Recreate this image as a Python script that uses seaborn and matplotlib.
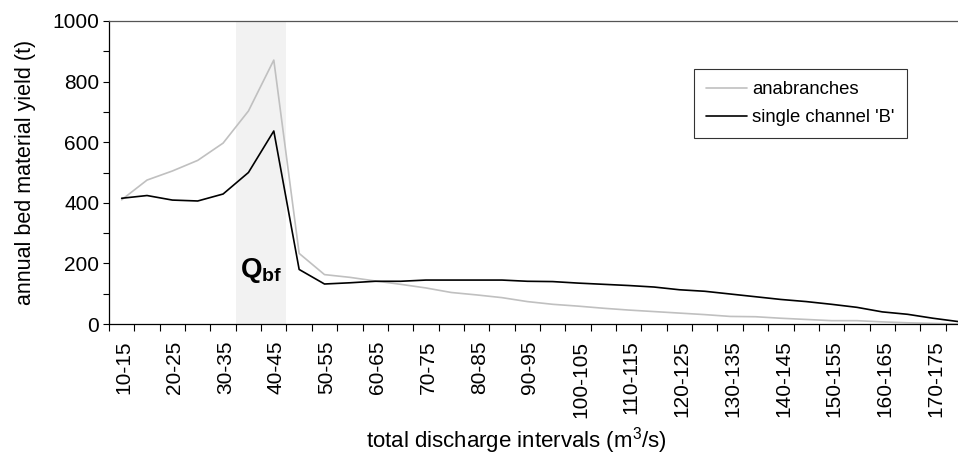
import numpy as np
import pandas as pd
import matplotlib
matplotlib.use("Agg")
import matplotlib.pyplot as plt
from matplotlib.ticker import FixedLocator, MultipleLocator
import seaborn as sns

# discharge classes 10-15 ... 175-180 m3/s
intervals = ["%d-%d" % (lo, lo + 5) for lo in range(10, 180, 5)]

anabranches = [410, 475, 505, 540, 597, 703, 871, 233, 163, 154, 142, 131,
               119, 104, 96, 87, 74, 65, 59, 52, 46, 41, 36, 31, 25, 24,
               19, 15, 11, 11, 7, 4, 2, 0]
single_channel = [415, 424, 409, 406, 429, 500, 637, 180, 132, 136, 141, 141,
                  145, 145, 145, 145, 141, 140, 135, 131, 127, 122, 113, 108,
                  99, 90, 81, 74, 65, 55, 40, 32, 19, 8]

series_names = ["anabranches", "single channel 'B'"]
series_colors = {"anabranches": "#c0c0c0", "single channel 'B'": "#000000"}

sns.set_style("ticks")
plt.rcParams['font.family'] = ['Liberation Sans', 'DejaVu Sans']
plt.rcParams['mathtext.fontset'] = 'custom'
plt.rcParams['mathtext.rm'] = 'Liberation Sans'
plt.rcParams['mathtext.bf'] = 'Liberation Sans:bold'
plt.rcParams['mathtext.it'] = 'Liberation Sans:italic'
for key in ["text.color", "axes.labelcolor", "xtick.color", "ytick.color"]:
    plt.rcParams[key] = "black"

df = pd.DataFrame({
    "idx": list(range(len(intervals))) * 2,
    "value": anabranches + single_channel,
    "series": [series_names[0]] * len(intervals) + [series_names[1]] * len(intervals),
})

fig = plt.figure(figsize=(9.58, 4.57), dpi=100)
ax = fig.add_axes([109 / 958, 1 - 324 / 457, (971 - 109) / 958, (324 - 21) / 457])

# bankfull discharge band
ax.axvspan(4.5, 6.5, color="#f2f2f2", zorder=0, lw=0)

sns.lineplot(data=df, x="idx", y="value", hue="series", palette=series_colors,
             hue_order=series_names, linewidth=1.2, ax=ax, legend=False)

ax.set_xlim(-0.5, len(intervals) - 0.5)
ax.set_ylim(0, 1000)

# ticks between categories, labels on every second category
ax.xaxis.set_major_locator(FixedLocator(np.arange(-0.5, len(intervals), 1.0)))
ax.xaxis.set_major_formatter(plt.NullFormatter())
ax.set_xticks(np.arange(0, len(intervals), 2) + 0.1, minor=True)
ax.set_xticklabels(intervals[::2], minor=True, rotation=90)
ax.tick_params(axis="x", which="major", direction="out", length=5, width=0.8)
ax.tick_params(axis="x", which="minor", length=0, pad=12, labelsize=15)

ax.yaxis.set_major_locator(MultipleLocator(200))
ax.yaxis.set_minor_locator(MultipleLocator(100))
ax.tick_params(axis="y", which="both", direction="out", length=4, width=0.8,
               labelsize=15, pad=3)

for side in ["left", "bottom"]:
    ax.spines[side].set_color("black")
    ax.spines[side].set_linewidth(0.9)
ax.spines["top"].set_visible(True)
ax.spines["top"].set_color("#555555")
ax.spines["top"].set_linewidth(0.9)
ax.spines["right"].set_visible(False)

ax.set_xlabel("")
ax.set_ylabel("annual bed material yield (t)", fontsize=15.5, labelpad=12)
fig.text(516 / 958, 1 - 441 / 457, "total discharge intervals (m$^3$/s)",
         ha="center", va="center", fontsize=16)

ax.text(5.5, 178, r"$\mathbf{Q}_{\mathbf{bf}}$", ha="center", va="center", fontsize=20)

handles = [plt.Line2D([], [], color=series_colors[n], lw=1.2) for n in series_names]
leg = ax.legend(handles, series_names, loc="upper left",
                bbox_to_anchor=((694 - 109) / (971 - 109), (324 - 69) / (324 - 21)),
                borderaxespad=0, frameon=True, fancybox=False, edgecolor="black",
                fontsize=13.3, handlelength=2.2, handletextpad=0.3, borderpad=0.65,
                labelspacing=0.6)
leg.get_frame().set_linewidth(0.8)

fig.savefig("out.png", dpi=100)
